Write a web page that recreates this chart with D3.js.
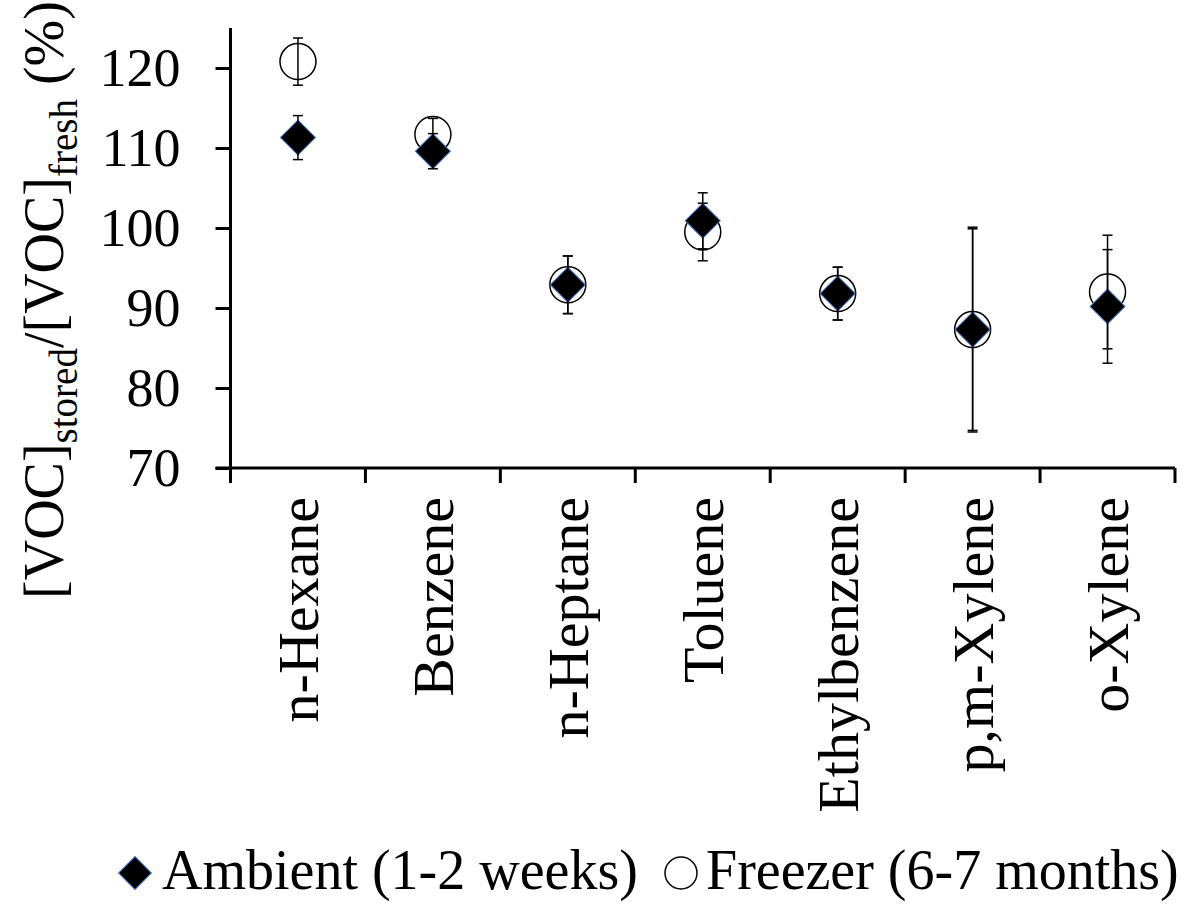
<!DOCTYPE html>
<html>
<head>
<meta charset="utf-8">
<script src="https://cdn.jsdelivr.net/npm/d3@7"></script>
<style>
  html, body { margin: 0; padding: 0; background: #fff; }
  svg { display: block; }
  text { font-family: "Liberation Serif", "Times New Roman", serif; fill: #000; }
</style>
</head>
<body>
<svg id="chart" width="1189" height="907"></svg>
<script>
// ---- data ----
const categories = ["n-Hexane", "Benzene", "n-Heptane", "Toluene", "Ethylbenzene", "p,m-Xylene", "o-Xylene"];
const ambient    = [111.3, 109.6, 92.9, 100.9, 91.8, 87.3, 90.2];
const ambientErr = [2.75, 2.2, 3.6, 3.5, 3.3, 12.8, 7.1];
const freezer    = [120.8, 111.7, 92.9, 99.5, 91.8, 87.3, 92.0];
const freezerErr = [2.95, 2.0, 3.6, 3.6, 3.3, 12.6, 7.1];
const yTicks     = [70, 80, 90, 100, 110, 120];
const seriesNames = ["Ambient (1-2 weeks)", "Freezer (6-7 months)"];

// ---- layout ----
const svg = d3.select("#chart");
const x0 = 230.5, x1 = 1175, yTop = 28, yBottom = 468;
const x = d3.scaleBand().domain(categories).range([x0, x1]).padding(0);
const y = d3.scaleLinear().domain([70, 125]).range([yBottom, yTop]);
const tickLen = 15;

// y axis
const yAxis = d3.axisLeft(y).tickValues(yTicks).tickSize(tickLen).tickSizeOuter(0).tickPadding(35);
const gy = svg.append("g").attr("transform", `translate(${x0},0)`).call(yAxis);
gy.select(".domain").remove();
gy.selectAll(".tick line").attr("stroke", "#000").attr("stroke-width", 3);
gy.selectAll(".tick text")
  .style("font-family", '"Liberation Serif", "Times New Roman", serif')
  .style("font-size", "54px").attr("fill", "#000");
svg.append("line").attr("x1", x0).attr("x2", x0).attr("y1", yTop).attr("y2", yBottom + tickLen)
  .attr("stroke", "#000").attr("stroke-width", 3);

// x axis
svg.append("line").attr("x1", x0 - tickLen).attr("x2", x1).attr("y1", yBottom).attr("y2", yBottom)
  .attr("stroke", "#000").attr("stroke-width", 3);
const boundaries = categories.map(c => x(c)).concat([x(categories[categories.length - 1]) + x.bandwidth()]);
svg.append("g").selectAll("line").data(boundaries.slice(1)).join("line")
  .attr("x1", d => d).attr("x2", d => d).attr("y1", yBottom).attr("y2", yBottom + tickLen)
  .attr("stroke", "#000").attr("stroke-width", 3);

// category labels
svg.append("g").selectAll("text").data(categories).join("text")
  .attr("transform", d => `translate(${x(d) + x.bandwidth() / 2},${yBottom + 29}) rotate(-90)`)
  .attr("text-anchor", "end").attr("dy", "0.35em")
  .style("font-size", "58px")
  .text(d => d);

// y title
const title = svg.append("text")
  .attr("transform", "translate(63,300) rotate(-90)")
  .attr("text-anchor", "middle")
  .style("font-size", "56px");
title.append("tspan").text("[VOC]");
title.append("tspan").attr("dy", 14).style("font-size", "39px").text("stored");
title.append("tspan").attr("dy", -14).text("/[VOC]");
title.append("tspan").attr("dy", 14).style("font-size", "39px").text("fresh");
title.append("tspan").attr("dy", -14).text(" (%)");

// error bars helper
function errorBars(vals, errs, cls) {
  const g = svg.append("g").attr("class", cls);
  const data = categories.map((c, i) => ({ c, v: vals[i], e: errs[i] }));
  g.selectAll("line.v").data(data).join("line").attr("class", "v")
    .attr("x1", d => x(d.c) + x.bandwidth() / 2).attr("x2", d => x(d.c) + x.bandwidth() / 2)
    .attr("y1", d => y(d.v + d.e)).attr("y2", d => y(d.v - d.e))
    .attr("stroke", "#000").attr("stroke-width", 1.5);
  ["+", "-"].forEach(s => {
    g.selectAll("line.cap" + (s === "+" ? "u" : "l")).data(data).join("line")
      .attr("class", "cap" + (s === "+" ? "u" : "l"))
      .attr("x1", d => x(d.c) + x.bandwidth() / 2 - 5).attr("x2", d => x(d.c) + x.bandwidth() / 2 + 5)
      .attr("y1", d => y(s === "+" ? d.v + d.e : d.v - d.e)).attr("y2", d => y(s === "+" ? d.v + d.e : d.v - d.e))
      .attr("stroke", "#000").attr("stroke-width", 1.5);
  });
}

// freezer series
svg.append("g").selectAll("circle").data(freezer).join("circle")
  .attr("cx", (d, i) => x(categories[i]) + x.bandwidth() / 2)
  .attr("cy", d => y(d)).attr("r", 18)
  .attr("fill", "none").attr("stroke", "#000").attr("stroke-width", 1.5);
errorBars(freezer, freezerErr, "freezer-err");

// ambient series
const diamond = d3.symbol().type(d3.symbolSquare).size(612);
svg.append("g").selectAll("path").data(ambient).join("path")
  .attr("d", diamond)
  .attr("transform", (d, i) => `translate(${x(categories[i]) + x.bandwidth() / 2},${y(d)}) rotate(45)`)
  .attr("fill", "#000").attr("stroke", "#4472C4").attr("stroke-width", 1);
errorBars(ambient, ambientErr, "ambient-err");

// legend
const lg = svg.append("g");
lg.append("path").attr("d", d3.symbol().type(d3.symbolSquare).size(540))
  .attr("transform", "translate(135,873) rotate(45)")
  .attr("fill", "#000").attr("stroke", "#4472C4").attr("stroke-width", 1);
lg.append("text").attr("x", 162).attr("y", 889).style("font-size", "56px").text(seriesNames[0]);
lg.append("circle").attr("cx", 681).attr("cy", 873).attr("r", 16)
  .attr("fill", "none").attr("stroke", "#000").attr("stroke-width", 1.5);
lg.append("text").attr("x", 706).attr("y", 889).style("font-size", "56px").text(seriesNames[1]);
</script>
</body>
</html>
